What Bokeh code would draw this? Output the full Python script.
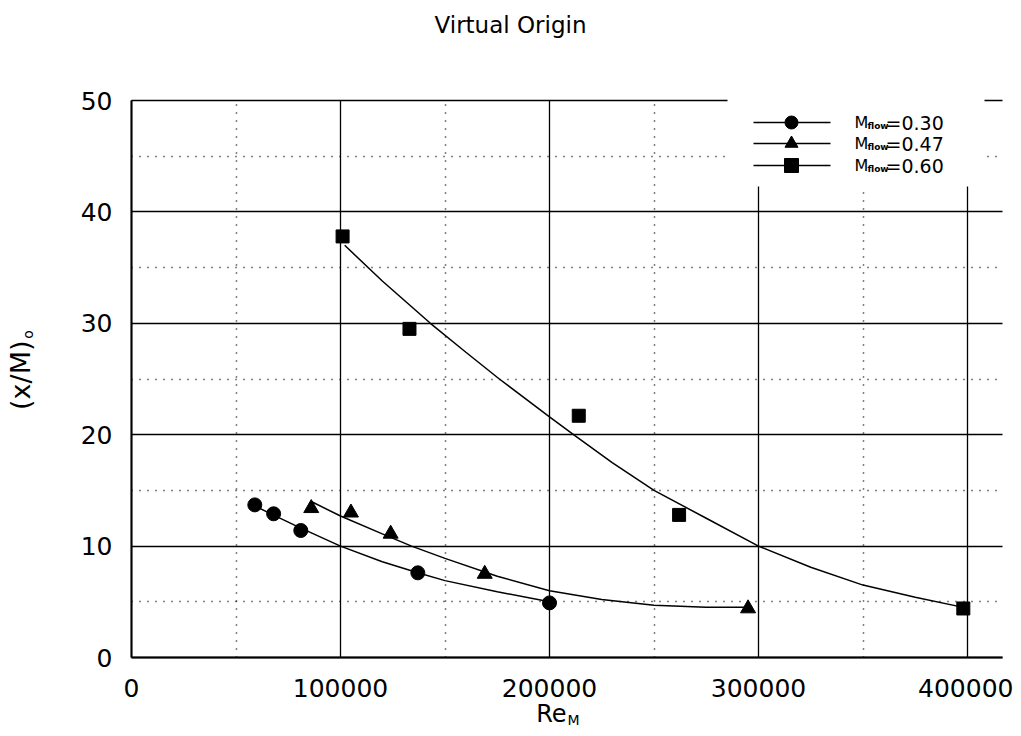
from math import pi
from bokeh.plotting import figure
from bokeh.models import FixedTicker, Label, Range1d
from bokeh.embed import file_html
from bokeh.resources import INLINE

# ---------------- data ----------------
re_m030 = [59000, 68000, 81000, 137000, 200000]
xm_m030 = [13.7, 12.9, 11.4, 7.6, 4.9]
re_m047 = [86000, 105000, 124000, 169000, 295000]
xm_m047 = [13.4, 13.0, 11.1, 7.5, 4.4]
re_m060 = [101000, 133000, 214000, 262000, 398000]
xm_m060 = [37.8, 29.5, 21.7, 12.8, 4.4]

# fitted curves as drawn in the picture
fit_re_m030 = [59000, 70000, 80000, 100000, 120000, 137000, 150000, 175000, 200000]
fit_xm_m030 = [13.6, 12.6, 11.7, 10.0, 8.6, 7.6, 6.9, 5.9, 5.0]
fit_re_m047 = [86000, 100000, 120000, 134000, 150000, 175000, 200000, 225000, 250000, 275000, 295000]
fit_xm_m047 = [14.0, 12.7, 11.1, 10.0, 8.9, 7.3, 6.0, 5.2, 4.7, 4.5, 4.5]
fit_re_m060 = [102000, 120000, 143000, 160000, 176000, 200000, 211500, 230000, 250000,
               275000, 300000, 325000, 350000, 375000, 398000]
fit_xm_m060 = [37.0, 33.8, 30.0, 27.4, 25.0, 21.6, 20.0, 17.5, 15.0,
               12.5, 10.0, 8.1, 6.5, 5.4, 4.5]

series_values = ["0.30", "0.47", "0.60"]
series_markers = ["circle", "triangle", "square"]

x_ticks = [0, 100000, 200000, 300000, 400000]
x_tick_labels = ["0", "100000", "200000", "300000", "400000"]
x_minor = [50000, 150000, 250000, 350000]
y_ticks = [0, 10, 20, 30, 40, 50]
y_tick_labels = ["0", "10", "20", "30", "40", "50"]
y_minor = [5, 15, 25, 35, 45]

title_text = "Virtual Origin"
xlabel_main, xlabel_sub = "Re", "M"
ylabel_main, ylabel_sub = "(x/M)", "o"
legend_main, legend_sub = "M", "flow"

# ---------------- layout ----------------
# The frame covers the whole canvas so that every text can live inside it;
# the axes are pinned at x=0 / y=0 and bounded to the data box.
FONT = "DejaVu Sans"
W, H = 1013, 728
PX_X0, PX_X400K = 131, 967      # page pixels of x = 0 and x = 400000
PX_Y0, PX_Y50 = 657, 100        # page pixels of y = 0 and y = 50
PX_RIGHT = 1002                 # right end of the data box


def dx(px):
    return (px - PX_X0) / (PX_X400K - PX_X0) * 400000


def dy(py):
    return (PX_Y0 - py) / (PX_Y0 - PX_Y50) * 50


X_END = dx(PX_RIGHT)
Y_END = 50

p = figure(width=W, height=H, output_backend="svg", toolbar_location=None,
           x_range=Range1d(dx(0), dx(W)), y_range=Range1d(dy(H), dy(0)),
           min_border=0, min_border_left=0, min_border_right=0,
           min_border_top=0, min_border_bottom=0)
if p.title is not None:
    p.title.visible = False
p.outline_line_color = None
p.background_fill_color = "white"
p.border_fill_color = "white"

p.xaxis.ticker = FixedTicker(ticks=x_ticks, minor_ticks=x_minor)
p.yaxis.ticker = FixedTicker(ticks=y_ticks, minor_ticks=y_minor)
p.xaxis.major_label_overrides = dict(zip(x_ticks, x_tick_labels))
p.yaxis.major_label_overrides = dict(zip(y_ticks, y_tick_labels))
p.xaxis.fixed_location = 0
p.yaxis.fixed_location = 0
p.xaxis.bounds = (0, X_END)
p.yaxis.bounds = (0, Y_END)

for ax in (p.xaxis[0], p.yaxis[0]):
    ax.axis_line_color = "black"
    ax.axis_line_width = 2
    ax.major_tick_in = 0
    ax.major_tick_out = 0
    ax.minor_tick_in = 0
    ax.minor_tick_out = 0
    ax.major_label_text_font = FONT
    ax.major_label_text_font_size = "25px"
    ax.major_label_text_color = "black"
p.xaxis.major_label_standoff = 21
p.yaxis.major_label_standoff = 19

p.xgrid.cross_bounds = (0, Y_END)
p.ygrid.cross_bounds = (0, X_END)
for g in (p.xgrid[0], p.ygrid[0]):
    g.grid_line_color = "black"
    g.grid_line_width = 1.3
    g.grid_line_alpha = 1.0
    g.minor_grid_line_color = "black"
    g.minor_grid_line_width = 1.5
    g.minor_grid_line_dash = "1 7"

# curves
p.line(fit_re_m030, fit_xm_m030, line_color="black", line_width=1.5)
p.line(fit_re_m047, fit_xm_m047, line_color="black", line_width=1.5)
p.line(fit_re_m060, fit_xm_m060, line_color="black", line_width=1.5)

# points
p.scatter(re_m030, xm_m030, marker="circle", size=14, color="black")
p.scatter(re_m047, xm_m047, marker="triangle", size=15, color="black")
p.scatter(re_m060, xm_m060, marker="square", size=13, color="black")

# legend (drawn by hand, since it has a subscript); white box hides the grid
p.quad(left=[dx(727)], right=[dx(984)], top=[dy(88)], bottom=[dy(186)],
       fill_color="white", line_color=None)
legend_rows_px = [122, 143, 165]
msizes = [13, 13, 14]
for val, mk, ry, ms in zip(series_values, series_markers, legend_rows_px, msizes):
    p.segment(x0=[dx(753)], y0=[dy(ry)], x1=[dx(830)], y1=[dy(ry)],
              line_color="black", line_width=1.6)
    p.scatter([dx(791)], [dy(ry)], marker=mk, size=ms, color="black")
    p.add_layout(Label(x=dx(854), y=dy(ry), text=legend_main, text_font=FONT,
                       text_font_size="16px", text_baseline="middle",
                       text_align="left", text_color="black"))
    p.add_layout(Label(x=dx(867), y=dy(ry + 3), text=legend_sub, text_font=FONT,
                       text_font_size="9px", text_font_style="bold",
                       text_baseline="middle", text_align="left",
                       text_color="black"))
    p.add_layout(Label(x=dx(885), y=dy(ry), text="=" + val, text_font=FONT,
                       text_font_size="19px", text_baseline="middle",
                       text_align="left", text_color="black"))

# title and axis titles
texts = [
    Label(x=dx(510), y=dy(24), text=title_text, text_font=FONT,
          text_font_size="23px", text_align="center", text_baseline="middle"),
    Label(x=dx(566), y=dy(713), text=xlabel_main, text_font=FONT,
          text_font_size="24px", text_align="right", text_baseline="middle"),
    Label(x=dx(567), y=dy(719), text=xlabel_sub, text_font=FONT,
          text_font_size="14px", text_align="left", text_baseline="middle"),
    Label(x=dx(20), y=dy(340), text=ylabel_main, text_font=FONT,
          text_font_size="27px", text_align="right", angle=pi / 2,
          text_baseline="middle"),
    Label(x=dx(27), y=dy(334), text=ylabel_sub, text_font=FONT,
          text_font_size="14px", text_align="center", angle=pi / 2,
          text_baseline="middle"),
]
for lab in texts:
    lab.text_color = "black"
    p.add_layout(lab)

open("out.html", "w").write(file_html(p, INLINE))
